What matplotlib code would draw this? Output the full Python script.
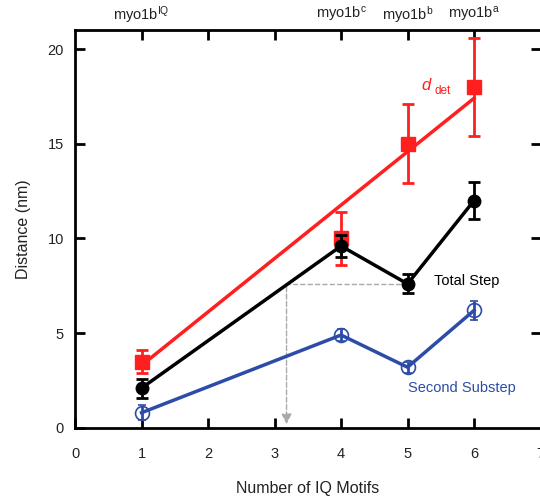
import matplotlib.pyplot as plt
import numpy as np

plt.rcParams['font.family'] = ['Liberation Sans', 'DejaVu Sans']
plt.rcParams['mathtext.fontset'] = 'custom'
plt.rcParams['mathtext.rm'] = 'Liberation Sans'
plt.rcParams['mathtext.it'] = 'Liberation Sans:italic'

# data
iq = [1, 4, 5, 6]
det = [3.5, 10.0, 15.0, 18.0]
det_err = [0.6, 1.4, 2.1, 2.6]
fit_x = [1, 6]
fit_y = [3.3, 17.4]
total = [2.1, 9.6, 7.6, 12.0]
total_err = [0.5, 0.6, 0.5, 1.0]
second = [0.8, 4.9, 3.2, 6.2]
second_err = [0.4, 0.3, 0.3, 0.5]
top_labels = [r'myo1b$^{\mathrm{IQ}}$', r'myo1b$^{\mathrm{c}}$',
              r'myo1b$^{\mathrm{b}}$', r'myo1b$^{\mathrm{a}}$']

red = '#ff1f1f'
blue = '#2c4ca8'

fig = plt.figure(figsize=(5.4, 5.01), dpi=100, facecolor='white')
ax = fig.add_axes([0.139, 0.146, 0.862, 0.794])

# fit line for d_det
ax.plot(fit_x, fit_y, color=red, linewidth=2.5, zorder=3)
ax.errorbar(iq, det, yerr=det_err, fmt='s', color=red, markersize=10,
            capsize=4, capthick=2, elinewidth=2, zorder=4)

ax.errorbar(iq, total, yerr=total_err, fmt='-o', color='black', markersize=9,
            linewidth=2.5, capsize=4, capthick=2, elinewidth=2, zorder=5)

ax.errorbar(iq, second, yerr=second_err, fmt='-o', color=blue, markersize=10,
            markerfacecolor='none', markeredgewidth=1.2, linewidth=2.5,
            capsize=3, capthick=2, elinewidth=2, zorder=5)

# dashed guide
ax.plot([5, 3.18], [7.6, 7.6], color='#aaaaaa', linestyle='--', linewidth=1, zorder=1)
ax.annotate('', xy=(3.18, 0.05), xytext=(3.18, 7.6),
            arrowprops=dict(arrowstyle='-|>', color='#aaaaaa', linestyle='--',
                            linewidth=1, mutation_scale=15), zorder=1)

ax.text(5.2, 18.1, r'$d$', color=red, fontsize=12, ha='left', va='center')
ax.text(5.4, 17.8, 'det', color=red, fontsize=8.5, ha='left', va='center')
ax.text(5.4, 7.75, 'Total Step', color='black', fontsize=10.5, ha='left', va='center')
ax.text(5.0, 2.1, 'Second Substep', color=blue, fontsize=10.5, ha='left', va='center')

ax.set_xlim(0, 7)
ax.set_ylim(0, 21)
ax.set_xticks(range(0, 8))
ax.set_yticks([0, 5, 10, 15, 20])
ax.tick_params(direction='in', length=7, width=2, labelsize=10.5, pad=8,
               colors='black', labelcolor='#222222')
ax.tick_params(axis='x', pad=14)

for s in ax.spines.values():
    s.set_linewidth(2)

ax.set_xlabel('Number of IQ Motifs', fontsize=11.5, labelpad=14, color='#222222')
ax.set_ylabel('Distance (nm)', fontsize=11.5, labelpad=12, color='#222222')

top = ax.secondary_xaxis('top')
top.set_xticks(range(1, 7))
top.set_xticklabels([])
top.tick_params(direction='in', length=7, width=2)
for x, lab in zip(iq, top_labels):
    ax.text(x, 21.8, lab, ha='center', va='center', fontsize=10.5, color='#222222')

right = ax.secondary_yaxis('right')
right.set_yticks([5, 10, 15, 20])
right.set_yticklabels([])
right.tick_params(direction='in', length=7, width=2)

fig.savefig('out.png', dpi=100)
